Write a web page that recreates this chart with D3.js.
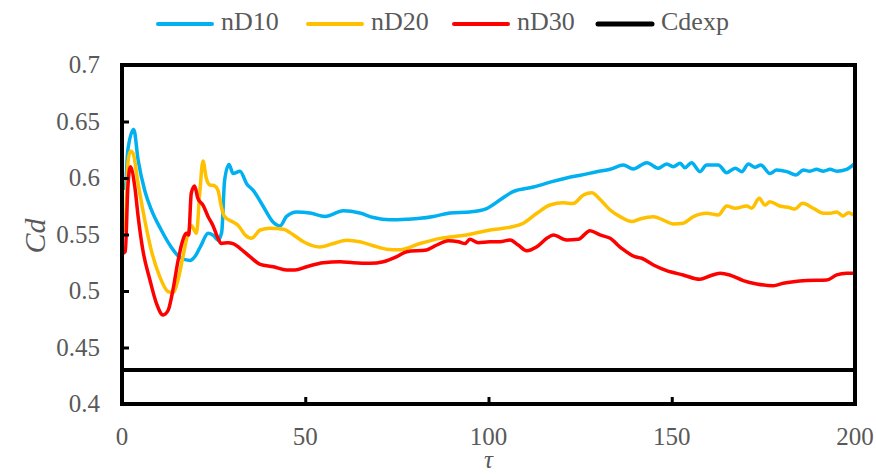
<!DOCTYPE html>
<html>
<head>
<meta charset="utf-8">
<script src="https://cdn.jsdelivr.net/npm/d3@7"></script>
<style>
  html, body { margin: 0; padding: 0; background: #fff; }
  svg { display: block; font-family: "Liberation Serif", "Times New Roman", serif; }
</style>
</head>
<body>
<div id="chart"></div>
<script>
// series data
const nD10Tau = [0, 0.9, 1.6, 3.2, 4.4, 6.2, 8, 10.7, 13.4, 15.7, 18.5, 20, 21.5, 23.5, 25, 26.2, 27.2, 28, 29.2, 30.3,
  32.2, 34, 35.8, 38.5, 41.2, 43.1, 44.9, 47.7, 51.3, 55.4, 60.4, 64.9, 68.6, 73.1, 77.7, 81.3, 85, 89.5, 95,
  99.5, 103.1, 106.7, 112.2, 117.6, 121.3, 125.9, 129.5, 133.2, 136.8, 139.5, 143.2, 146.3, 148.6, 150.4,
  152.3, 153.6, 155.4, 157.7, 159.5, 162.7, 165, 167.3, 169.1, 170.9, 172.7, 174.3, 176.8, 178.6, 181.4,
  183.9, 185.9, 187.7, 189.5, 191.4, 193.2, 195, 197.7, 200];
const nD10Cd = [0.590, 0.592, 0.625, 0.643, 0.616, 0.589, 0.572, 0.554, 0.539, 0.530, 0.527, 0.531, 0.540, 0.551, 0.549, 0.545, 0.552, 0.598, 0.612, 0.604,
  0.606, 0.595, 0.589, 0.575, 0.561, 0.5575, 0.566, 0.570, 0.569, 0.566, 0.571, 0.569, 0.565, 0.563, 0.5635, 0.5643, 0.566, 0.569, 0.570,
  0.573, 0.5805, 0.588, 0.592, 0.597, 0.600, 0.603, 0.6056, 0.6077, 0.6115, 0.608, 0.6136, 0.6086, 0.6124, 0.610,
  0.613, 0.609, 0.6136, 0.6056, 0.6115, 0.6115, 0.6047, 0.6086, 0.6056, 0.6124, 0.6095, 0.6115, 0.604, 0.607, 0.6056,
  0.6027, 0.607, 0.606, 0.6077, 0.606, 0.6077, 0.606, 0.6077, 0.613];

const nD20Tau = [0, 0.9, 1.6, 2.3, 3, 4.4, 6.2, 8, 10.3, 12.6, 13.9, 15.3, 16.6, 18, 18.9, 20.3, 21.2, 22.1, 23, 23.9,
  25.3, 26.2, 27.1, 28, 30.3, 31.7, 33.6, 35.4, 37.7, 40.4, 44, 46.8, 49.5, 54, 57.7, 61.3, 64.9, 68.6, 72.2,
  75.9, 81.3, 86.8, 94, 100.4, 105.9, 109.5, 113.2, 116.8, 120.4, 123.1, 125.9, 128.2, 130.4, 133.2, 135.9,
  139.1, 141.3, 145, 147.7, 150.4, 153.1, 155.9, 159.5, 162.7, 165, 167.3, 170.5, 171.8, 173.9, 175.4, 176.8,
  179.5, 182.2, 183.6, 185.7, 188.6, 191.4, 193.2, 195, 196.8, 198.2, 200];
const nD20Cd = [0.552, 0.557, 0.613, 0.624, 0.622, 0.595, 0.563, 0.536, 0.5127, 0.4994, 0.4985, 0.510, 0.530, 0.551, 0.558, 0.551, 0.586, 0.615, 0.5997, 0.594,
  0.593, 0.589, 0.5746, 0.5658, 0.561, 0.558, 0.5496, 0.5466, 0.554, 0.5555, 0.5546, 0.5496, 0.5436, 0.539, 0.542, 0.545, 0.5436, 0.540, 0.537,
  0.5365, 0.542, 0.5466, 0.5496, 0.554, 0.5564, 0.560, 0.5688, 0.5761, 0.578, 0.5775, 0.585, 0.587, 0.5812, 0.5717, 0.5658,
  0.5614, 0.5637, 0.5658, 0.5628, 0.5593, 0.560, 0.5658, 0.5688, 0.5673, 0.5752, 0.5732, 0.5752, 0.5732, 0.582, 0.576, 0.579,
  0.5752, 0.5737, 0.5725, 0.5776, 0.5732, 0.5688, 0.5688, 0.570, 0.5664, 0.5693, 0.5664];

const nD30Tau = [0, 0.9, 1.6, 2.3, 3.5, 4.4, 5.7, 7.6, 9.4, 11.2, 12.6, 13.9, 15.3, 16.6, 17.5, 18.2, 18.9, 19.8, 20.7, 22.1,
  23.5, 24.8, 26.2, 27.1, 28.9, 30.3, 32.2, 34.9, 37.7, 41.3, 44.9, 47.2, 50.4, 54.9, 59.5, 63.1, 67.7, 71.3, 75,
  77.7, 83.1, 85.9, 89, 91.8, 93.6, 94.9, 97.2, 100.4, 103.1, 105.9, 108.1, 110.4, 113.2, 115.9, 117.7, 121.3, 124.5,
  127.7, 130.4, 133.2, 136.3, 139.9, 141.8, 145, 148.6, 153.1, 157.7, 160.4, 163.2, 165.8, 169.5, 173.2, 177.7,
  180.4, 183.2, 186.8, 192.3, 195, 197.7, 200];
const nD30Cd = [0.533, 0.535, 0.592, 0.610, 0.592, 0.566, 0.536, 0.510, 0.489, 0.4788, 0.483, 0.501, 0.527, 0.545, 0.551, 0.5496, 0.5865, 0.593, 0.582, 0.576,
  0.5658, 0.558, 0.5466, 0.542, 0.5428, 0.542, 0.5378, 0.5304, 0.5236, 0.5215, 0.5186, 0.5186, 0.5215, 0.525, 0.5259, 0.525, 0.5245, 0.5259, 0.5304,
  0.5348, 0.5363, 0.5407, 0.5445, 0.5436, 0.542, 0.5457, 0.5428, 0.5436, 0.5436, 0.5451, 0.5407, 0.5357, 0.5392, 0.5466, 0.5496, 0.5451, 0.5457,
  0.5534, 0.5496, 0.5466, 0.5378, 0.5304, 0.529, 0.523, 0.518, 0.5142, 0.5103, 0.5133, 0.5157, 0.5142, 0.5092, 0.5062, 0.5047,
  0.5068, 0.5082, 0.5092, 0.5097, 0.5142, 0.5157, 0.5157];

const cdexpTau = [0, 200];
const cdexpCd = [0.43, 0.43];

const seriesNames = ["nD10", "nD20", "nD30", "Cdexp"];
const seriesColors = ["#00B0F0", "#FFC000", "#FF0000", "#000000"];

const xTicks = [0, 50, 100, 150, 200];
const yTicks = [0.4, 0.45, 0.5, 0.55, 0.6, 0.65, 0.7];

const W = 876, H = 476;
const MARGIN = { top: 65, right: 21, bottom: 72, left: 122 };
const FONT = "Liberation Serif";
const TEXT_COLOR = "#595959";

const svg = d3.select("#chart").append("svg")
  .attr("width", W)
  .attr("height", H)
  .attr("font-family", FONT);

const innerW = W - MARGIN.left - MARGIN.right;
const innerH = H - MARGIN.top - MARGIN.bottom;

const x = d3.scaleLinear().domain([0, 200]).range([MARGIN.left, MARGIN.left + innerW]);
const y = d3.scaleLinear().domain([0.4, 0.7]).range([MARGIN.top + innerH, MARGIN.top]);

const zip = (ts, vs) => ts.map((t, i) => [t, vs[i]]);
const series = [
  zip(nD10Tau, nD10Cd),
  zip(nD20Tau, nD20Cd),
  zip(nD30Tau, nD30Cd),
  zip(cdexpTau, cdexpCd),
];

const line = d3.line()
  .x(d => x(d[0]))
  .y(d => y(d[1]))
  .curve(d3.curveMonotoneX);

series.forEach((s, i) => {
  svg.append("path")
    .datum(s)
    .attr("d", line)
    .attr("fill", "none")
    .attr("stroke", seriesColors[i])
    .attr("stroke-width", i === 3 ? 4 : 3.5)
    .attr("stroke-linejoin", "round")
    .attr("stroke-linecap", "round");
});

// axes: ticks pointing inward, then the heavy frame
const yAxis = d3.axisLeft(y).tickValues(yTicks).tickSize(-7).tickFormat("");
svg.append("g")
  .attr("transform", `translate(${MARGIN.left},0)`)
  .call(yAxis)
  .call(g => g.select(".domain").remove())
  .call(g => g.selectAll("line").attr("stroke", "#000").attr("stroke-width", 3));

const xAxis = d3.axisBottom(x).tickValues(xTicks).tickSize(-7).tickFormat("");
svg.append("g")
  .attr("transform", `translate(0,${MARGIN.top + innerH})`)
  .call(xAxis)
  .call(g => g.select(".domain").remove())
  .call(g => g.selectAll("line").attr("stroke", "#000").attr("stroke-width", 3));

svg.append("rect")
  .attr("x", MARGIN.left)
  .attr("y", MARGIN.top)
  .attr("width", innerW)
  .attr("height", innerH)
  .attr("fill", "none")
  .attr("stroke", "#000")
  .attr("stroke-width", 4);

// tick labels
svg.append("g")
  .selectAll("text")
  .data(yTicks)
  .join("text")
  .attr("x", 100)
  .attr("y", d => y(d) + 8)
  .attr("text-anchor", "end")
  .attr("font-family", FONT)
  .attr("font-size", 25)
  .attr("fill", TEXT_COLOR)
  .text(d => d);

svg.append("g")
  .selectAll("text")
  .data(xTicks)
  .join("text")
  .attr("x", d => x(d))
  .attr("y", 445)
  .attr("text-anchor", "middle")
  .attr("font-family", FONT)
  .attr("font-size", 25)
  .attr("fill", TEXT_COLOR)
  .text(d => d);

// axis titles
svg.append("text")
  .attr("transform", "translate(45,236) rotate(-90)")
  .attr("text-anchor", "middle")
  .attr("font-family", FONT)
  .attr("font-size", 30)
  .attr("font-style", "italic")
  .attr("fill", TEXT_COLOR)
  .text("Cd");

svg.append("text")
  .attr("x", x(100))
  .attr("y", 468)
  .attr("text-anchor", "middle")
  .attr("font-family", FONT)
  .attr("font-size", 25)
  .attr("font-style", "italic")
  .attr("fill", TEXT_COLOR)
  .text("τ");

// legend
const legendX = [158, 308, 454, 598];
const legend = svg.append("g");
seriesNames.forEach((name, i) => {
  const lx = legendX[i];
  legend.append("line")
    .attr("x1", lx).attr("x2", lx + 54)
    .attr("y1", 24).attr("y2", 24)
    .attr("stroke", seriesColors[i])
    .attr("stroke-width", i === 3 ? 5 : 4)
    .attr("stroke-linecap", "round");
  legend.append("text")
    .attr("x", lx + 63)
    .attr("y", 30)
    .attr("font-family", FONT)
    .attr("font-size", 26)
    .attr("fill", TEXT_COLOR)
    .text(name);
});
</script>
</body>
</html>
